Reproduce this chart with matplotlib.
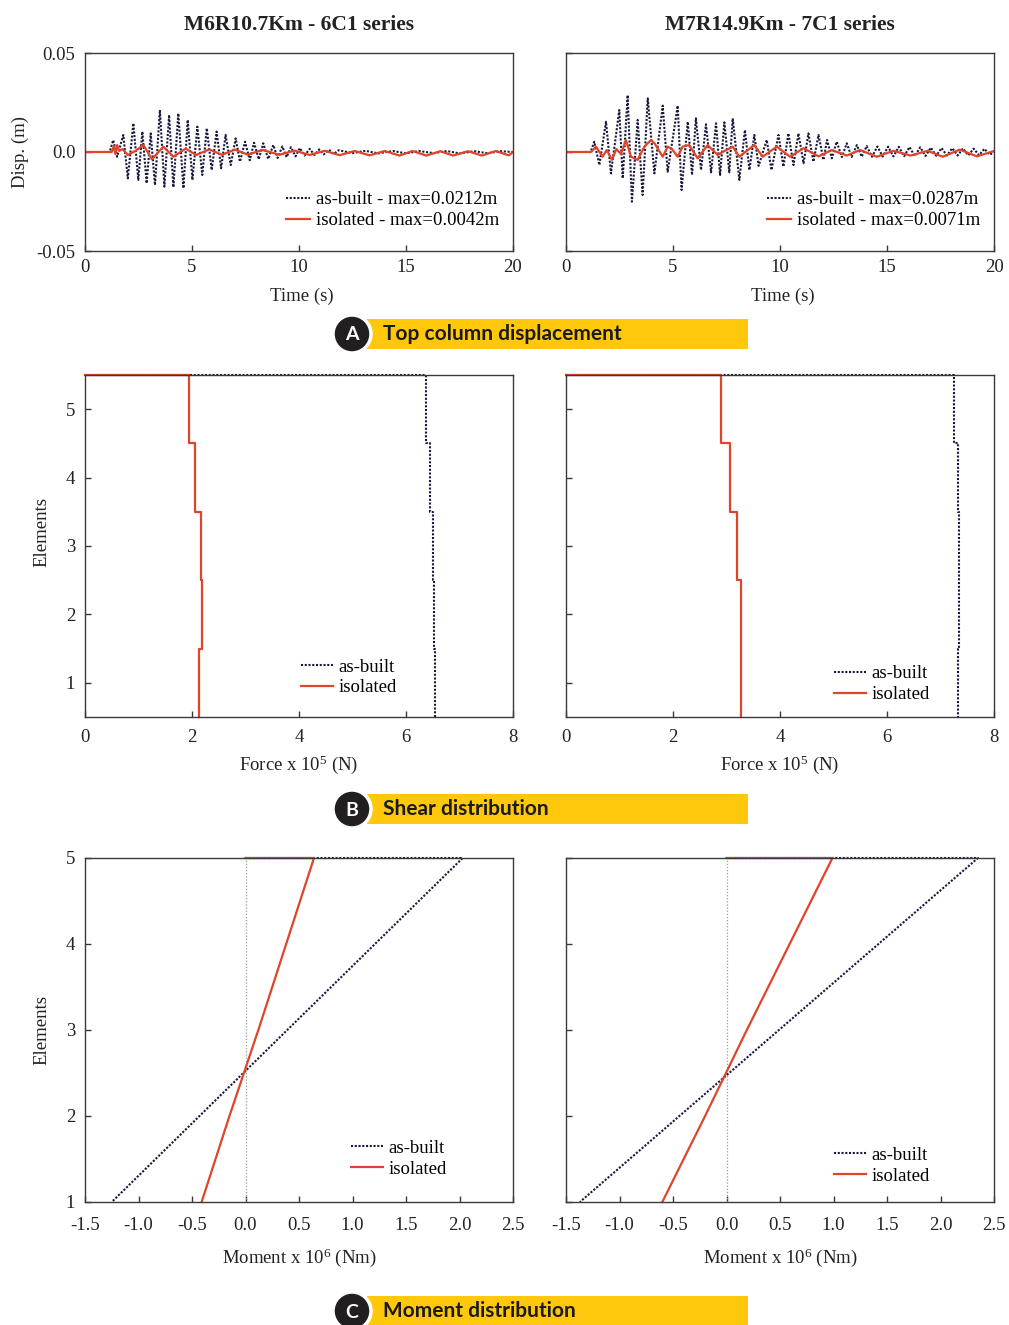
import numpy as np
import matplotlib
matplotlib.use("Agg")
import matplotlib.pyplot as plt
from matplotlib.patches import Rectangle, Circle

plt.rcParams['font.family'] = ['Liberation Serif', 'DejaVu Serif']
plt.rcParams['mathtext.fontset'] = 'custom'
plt.rcParams['mathtext.rm'] = 'Liberation Serif'
plt.rcParams['mathtext.it'] = 'Liberation Serif:italic'

# ---- data: top column displacement (peaks) ----
t_ab_6c1 = [0, 1.15, 1.32, 1.5, 1.79, 2.0, 2.26, 2.49, 2.68, 2.88, 3.07, 3.27, 3.5, 3.71, 3.93, 4.13,
            4.36, 4.6, 4.8, 5.02, 5.25, 5.48, 5.69, 5.92, 6.15, 6.36, 6.57, 6.81, 7.04, 7.24, 7.48,
            7.7, 7.9, 8.12, 8.33, 8.56, 8.8, 9.0, 9.22, 9.42, 9.62, 9.84, 10.04, 10.26, 10.5, 10.72,
            10.94, 11.16, 11.4, 11.62, 11.85, 12.5, 13.1, 13.7, 14.4, 15.0, 15.6, 16.3, 16.9, 17.5,
            18.2, 18.8, 19.4, 20]
d_ab_6c1 = [0, 0, 0.006, -0.0024, 0.0086, -0.0133, 0.0145, -0.0141, 0.0103, -0.0158, 0.0094, -0.0167,
            0.0212, -0.0175, 0.0187, -0.0178, 0.0195, -0.0183, 0.0162, -0.0141, 0.0128, -0.0116,
            0.012, -0.0091, 0.0103, -0.0082, 0.0086, -0.0066, 0.0069, -0.0049, 0.0052, -0.0042,
            0.0047, -0.0037, 0.0044, -0.0035, 0.0035, -0.003, 0.0028, -0.0026, 0.0024, -0.0022,
            0.002, -0.0018, 0.0016, -0.0015, 0.0013, -0.0012, 0.0011, -0.001, 0.0009, -0.0006,
            0.0006, -0.0007, 0.0005, -0.0007, 0.0005, -0.0006, 0.0005, -0.0007, 0.0004, -0.0006,
            0.0004, 0.0]
t_is_6c1 = [0, 1.25, 1.35, 1.42, 1.5, 1.6, 1.75, 2.0, 2.35, 2.73, 3.13, 3.66, 4.13, 4.7, 5.2, 5.8,
            6.4, 7.0, 7.6, 8.3, 9.1, 9.8, 10.5, 11.2, 11.9, 12.6, 13.3, 14.0, 14.7, 15.3, 15.95,
            16.6, 17.2, 17.9, 18.55, 19.2, 19.8, 20]
d_is_6c1 = [0, 0, 0.003, -0.001, 0.0035, 0.0005, 0.0015, -0.0015, 0.0005, 0.0035, -0.0037, 0.0027,
            -0.0024, 0.0017, -0.0015, 0.0013, -0.0014, 0.0012, -0.0013, 0.0010, -0.0014, 0.0007,
            -0.0015, 0.0006, -0.0016, 0.0005, -0.0017, 0.0005, -0.0018, 0.0005, -0.0018, 0.0004,
            -0.0018, 0.0004, -0.0018, 0.0005, -0.0017, 0.0]

t_ab_7c1 = [0, 1.15, 1.32, 1.56, 1.87, 2.10, 2.49, 2.65, 2.88, 3.08, 3.35, 3.58, 3.82, 4.13, 4.52,
            4.75, 5.22, 5.40, 5.69, 5.89, 6.07, 6.31, 6.54, 6.78, 7.01, 7.20, 7.40, 7.63, 7.79, 8.10,
            8.36, 8.57, 8.80, 9.00, 9.38, 9.60, 9.93, 10.16, 10.39, 10.63, 10.86, 11.10, 11.33,
            11.56, 11.80, 12.03, 12.20, 12.42, 12.65, 12.89, 13.12, 13.35, 13.59, 13.82, 14.05,
            14.3, 14.55, 14.8, 15.05, 15.3, 15.55, 15.8, 16.05, 16.3, 16.55, 16.8, 17.05, 17.3,
            17.55, 17.8, 18.05, 18.3, 18.55, 18.8, 19.05, 19.3, 19.55, 19.8, 20]
d_ab_7c1 = [0, 0, 0.0052, -0.0066, 0.0153, -0.0108, 0.0212, -0.0133, 0.0287, -0.0251, 0.0162,
            -0.0217, 0.0271, -0.0108, 0.0234, -0.0100, 0.0234, -0.0192, 0.0153, -0.0116, 0.0170,
            -0.0091, 0.0140, -0.0103, 0.0145, -0.0116, 0.0150, -0.0103, 0.0170, -0.0141, 0.0111,
            -0.0091, 0.0086, -0.0070, 0.0061, -0.0091, 0.0086, -0.0074, 0.0094, -0.0066, 0.0094,
            -0.0057, 0.0094, -0.0049, 0.0086, -0.0040, 0.0061, -0.0032, 0.0052, -0.0026, 0.0044,
            -0.0025, 0.0035, -0.0024, 0.0030, -0.0024, 0.0028, -0.0023, 0.0027, -0.0022, 0.0026,
            -0.0021, 0.0025, -0.0021, 0.0024, -0.0020, 0.0022, -0.0019, 0.0020, -0.0018, 0.0019,
            -0.0018, 0.0018, -0.0017, 0.0017, -0.0016, 0.0016, -0.0014, 0.0]
t_is_7c1 = [0, 1.17, 1.40, 1.71, 1.90, 2.15, 2.35, 2.57, 2.80, 3.04, 3.35, 3.66, 3.97, 4.13, 4.52,
            4.75, 4.95, 5.22, 5.45, 5.76, 6.15, 6.62, 7.09, 7.40, 7.79, 8.10, 8.40, 8.80, 9.19, 9.85,
            10.47, 11.10, 11.80, 12.42, 13.12, 13.74, 14.52, 15.30, 16.1, 16.9, 17.6, 18.4, 19.2, 20]
d_is_7c1 = [0, 0, 0.0027, -0.0024, 0.0010, -0.0040, 0.0015, -0.0010, 0.0060, -0.0024, -0.0040,
            0.0027, 0.0060, 0.0045, -0.0024, 0.0027, 0.0015, -0.0024, 0.0027, 0.0035, -0.0032,
            0.0035, -0.0015, 0.0005, 0.0027, -0.0024, 0.0002, 0.0035, -0.0024, 0.0027, -0.0024,
            0.0019, -0.0022, 0.0010, -0.0018, 0.0010, -0.0024, 0.0006, -0.0018, 0.0006, -0.0024,
            0.0012, -0.0022, 0.0005]

# ---- data: shear per element (element 5 at top down to element 1), x 10^5 N ----
element_edges = [5.5, 4.5, 3.5, 2.5, 1.5, 0.5]
shear_ab_6c1 = [6.38, 6.45, 6.51, 6.53, 6.54]
shear_is_6c1 = [1.94, 2.05, 2.16, 2.18, 2.14]
shear_ab_7c1 = [7.25, 7.32, 7.35, 7.35, 7.33]
shear_is_7c1 = [2.89, 3.07, 3.20, 3.27, 3.27]

# ---- data: moment at levels 1..5, x 10^6 Nm ----
levels = [1, 2, 3, 4, 5]
moment_ab_6c1 = [-1.25, -0.43, 0.39, 1.21, 2.03]
moment_is_6c1 = [-0.41, -0.15, 0.12, 0.38, 0.64]
moment_ab_7c1 = [-1.37, -0.44, 0.49, 1.42, 2.35]
moment_is_7c1 = [-0.60, -0.20, 0.19, 0.59, 0.99]

titles = ["M6R10.7Km - 6C1 series", "M7R14.9Km - 7C1 series"]
max_ab = ["0.0212", "0.0287"]
max_is = ["0.0042", "0.0071"]

C_AB = '#18183f'
C_IS = '#e0442a'
AB_STYLE = dict(color=C_AB, lw=1.5, ls=(0, (1, 0.8)))
IS_STYLE = dict(color=C_IS, lw=1.6, ls='-')
FS = 13.5
TXT = '#222222'
SPINE = '#3a3a3a'

W, H = 1009, 1325
fig = plt.figure(figsize=(W / 100, H / 100), dpi=100)


def px_axes(x0, y0, x1, y1):
    return fig.add_axes([x0 / W, 1 - y1 / H, (x1 - x0) / W, (y1 - y0) / H])


def style(ax, labels_y=True, xpad=7):
    for s in ax.spines.values():
        s.set_color(SPINE)
        s.set_linewidth(1.0)
    ax.tick_params(direction='in', length=4, width=1, colors=SPINE, labelcolor=TXT,
                   labelsize=FS, top=False, right=False)
    ax.tick_params(axis='x', pad=xpad)
    ax.tick_params(axis='y', pad=7)
    if not labels_y:
        ax.tick_params(labelleft=False)


def legend(ax, handles, lab1, lab2, x, y, hl):
    ax.legend(handles, [lab1, lab2], loc='lower right', bbox_to_anchor=(x, y), frameon=False,
              fontsize=FS, handlelength=hl, handletextpad=0.3, labelspacing=0.2,
              borderpad=0, borderaxespad=0)


cols = [(85, 513), (566, 994)]

# row A: time histories
trace = [(t_ab_6c1, d_ab_6c1, t_is_6c1, d_is_6c1), (t_ab_7c1, d_ab_7c1, t_is_7c1, d_is_7c1)]
for i, (x0, x1) in enumerate(cols):
    ax = px_axes(x0, 53, x1, 251)
    ta, da, ti, di = trace[i]
    h1, = ax.plot(ta, da, **AB_STYLE)
    h2, = ax.plot(ti, di, **IS_STYLE)
    ax.set_xlim(0, 20)
    ax.set_ylim(-0.05, 0.05)
    ax.set_xticks([0, 5, 10, 15, 20])
    ax.set_yticks([-0.05, 0, 0.05], ["-0.05", "0.0", "0.05"])
    style(ax, labels_y=(i == 0), xpad=6)
    legend(ax, [h1, h2], f"as-built - max={max_ab[i]}m", f"isolated - max={max_is[i]}m",
           0.967, 0.11, 1.3)
    fig.text((x0 + x1) / 2 / W, 1 - 25 / H, titles[i], ha='center', va='center',
             fontsize=15.5, fontweight='bold', color=TXT)
    fig.text((x0 + x1) / 2 / W + 0.003, 1 - 296 / H, "Time (s)", ha='center', va='center',
             fontsize=FS, color=TXT)
fig.text(20 / W, 1 - 152 / H, "Disp. (m)", rotation=90, ha='center', va='center',
         fontsize=FS, color=TXT)

# row B: shear distribution
shear = [(shear_ab_6c1, shear_is_6c1), (shear_ab_7c1, shear_is_7c1)]
step_y = [element_edges[0]] + [e for pair in zip(element_edges[:-1], element_edges[1:]) for e in pair]
leg_b = [(0.729, 0.06), (0.85, 0.04)]
for i, (x0, x1) in enumerate(cols):
    ax = px_axes(x0, 375, x1, 717)
    hs = []
    for vals, st in zip(shear[i], (AB_STYLE, IS_STYLE)):
        sx = [0] + list(np.repeat(vals, 2))
        h, = ax.plot(sx, step_y, clip_on=False, **st)
        hs.append(h)
    ax.set_xlim(0, 8)
    ax.set_ylim(0.5, 5.5)
    ax.set_xticks([0, 2, 4, 6, 8])
    ax.set_yticks([1, 2, 3, 4, 5])
    style(ax, labels_y=(i == 0), xpad=9)
    legend(ax, hs, "as-built", "isolated", leg_b[i][0], leg_b[i][1], 1.7)
    fig.text((x0 + x1) / 2 / W, 1 - 765 / H, "Force x 10$^{5}$ (N)", ha='center', va='center',
             fontsize=FS, color=TXT)
fig.text(42 / W, 1 - 532 / H, "Elements", rotation=90, ha='center', va='center',
         fontsize=FS, color=TXT)

# row C: moment distribution
moment = [(moment_ab_6c1, moment_is_6c1), (moment_ab_7c1, moment_is_7c1)]
leg_c = [(0.846, 0.07), (0.85, 0.05)]
for i, (x0, x1) in enumerate(cols):
    ax = px_axes(x0, 858, x1, 1202)
    ax.axvline(0, color='#9a9a9a', lw=0.9, ls=(0, (1, 1.5)))
    hs = []
    for vals, st in zip(moment[i], (AB_STYLE, IS_STYLE)):
        mx = [0] + list(vals[::-1])
        my = [levels[-1]] + list(levels[::-1])
        h, = ax.plot(mx, my, clip_on=False, **st)
        hs.append(h)
    ax.set_xlim(-1.5, 2.5)
    ax.set_ylim(1, 5)
    xt = np.arange(-1.5, 2.51, 0.5)
    ax.set_xticks(xt, [f"{v:.1f}" for v in xt])
    ax.set_yticks(levels)
    style(ax, labels_y=(i == 0), xpad=11)
    legend(ax, hs, "as-built", "isolated", leg_c[i][0], leg_c[i][1], 1.7)
    fig.text((x0 + x1) / 2 / W, 1 - 1258 / H, "Moment x 10$^{6}$ (Nm)", ha='center', va='center',
             fontsize=FS, color=TXT)
fig.text(42 / W, 1 - 1030 / H, "Elements", rotation=90, ha='center', va='center',
         fontsize=FS, color=TXT)

# section banners
over = fig.add_axes([0, 0, 1, 1], zorder=10)
over.set_xlim(0, W)
over.set_ylim(H, 0)
over.axis('off')
banners = [("A", "Top column displacement", 319, 334), ("B", "Shear distribution", 794, 809),
           ("C", "Moment distribution", 1296, 1311)]
for letter, text, top, cy in banners:
    over.add_patch(Rectangle((352, top), 396, 30, facecolor='#ffc80a', edgecolor='none'))
    over.add_patch(Circle((352, cy), 19, facecolor='#231f20', edgecolor='white', lw=2.5))
    over.text(352, cy + 1, letter, ha='center', va='center', color='white', fontsize=14,
              fontweight='bold', family=['Lato', 'DejaVu Sans'])
    over.text(383, cy, text, ha='left', va='center', color='#1a1a1a', fontsize=15,
              fontweight='bold', family=['Lato', 'DejaVu Sans'])

fig.savefig("out.png", dpi=100)
